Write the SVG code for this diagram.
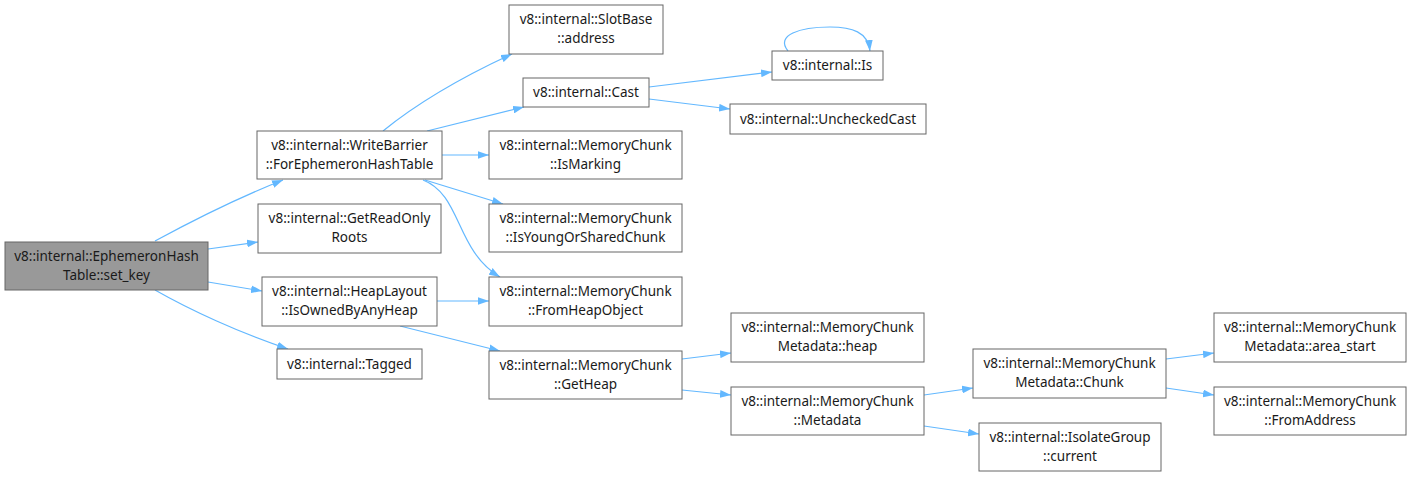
<svg xmlns="http://www.w3.org/2000/svg" width="1412" height="477" viewBox="0 0 1412 477">
<style>
.n rect{fill:#fff;stroke:#666;stroke-width:1}
.n.root rect{fill:#999}
.n text{font-family:"Noto Sans","Open Sans",sans-serif;font-size:13.5px;fill:#1a1a1a;text-anchor:middle}
#edges path{fill:none;stroke:#63b8ff;stroke-width:1.2;marker-end:url(#ah)}
</style>
<defs>
<marker id="ah" viewBox="0 0 10 7" refX="10" refY="3.5" markerWidth="11" markerHeight="8" markerUnits="userSpaceOnUse" orient="auto">
<path d="M0,0 L10,3.5 L0,7 z" fill="#63b8ff"/>
</marker>
</defs>
<rect width="1412" height="477" fill="#fff"/>
<g id="edges">
<path d="M155,241 C190,222 235,199 283,180"/>
<path d="M208,249 L258,242"/>
<path d="M208,282 L262,291"/>
<path d="M155,290 C190,310 240,333 288,349"/>
<path d="M383,131 C415,105 460,78 512,54"/>
<path d="M427,131 L524,107"/>
<path d="M442,155 L489,155"/>
<path d="M425,180 L503,204"/>
<path d="M423,180 C462,195 455,250 500,277"/>
<path d="M437,301 L489,301"/>
<path d="M400,326 L500,351"/>
<path d="M649,87 L772,72"/>
<path d="M649,99 L730,109"/>
<path d="M788,51 C775,35 800,27 830,27 C852,27 868,32 870,51"/>
<path d="M682,359 L731,353"/>
<path d="M682,390 L731,395"/>
<path d="M924,395 L973,388"/>
<path d="M924,426 L979,434"/>
<path d="M1166,359 L1214,353"/>
<path d="M1166,388 L1214,395"/>
</g>
<g id="set_key" class="n root"><rect x="5" y="242" width="203" height="48"/><text x="106.5" y="261">v8::internal::EphemeronHash</text><text x="106.5" y="280">Table::set_key</text></g>
<g id="write_barrier" class="n"><rect x="257" y="131" width="185" height="48"/><text x="349.5" y="150">v8::internal::WriteBarrier</text><text x="349.5" y="169">::ForEphemeronHashTable</text></g>
<g id="get_read_only_roots" class="n"><rect x="258" y="204" width="183" height="49"/><text x="349.5" y="223">v8::internal::GetReadOnly</text><text x="349.5" y="242">Roots</text></g>
<g id="is_owned" class="n"><rect x="262" y="277" width="175" height="49"/><text x="349.5" y="296">v8::internal::HeapLayout</text><text x="349.5" y="315">::IsOwnedByAnyHeap</text></g>
<g id="tagged" class="n"><rect x="277" y="349" width="145" height="30"/><text x="349.5" y="369">v8::internal::Tagged</text></g>
<g id="slotbase_address" class="n"><rect x="509" y="5" width="154" height="49"/><text x="586" y="24">v8::internal::SlotBase</text><text x="586" y="43">::address</text></g>
<g id="cast" class="n"><rect x="523" y="78" width="126" height="29"/><text x="586" y="97">v8::internal::Cast</text></g>
<g id="is_marking" class="n"><rect x="489" y="131" width="193" height="48"/><text x="585.5" y="150">v8::internal::MemoryChunk</text><text x="585.5" y="169">::IsMarking</text></g>
<g id="is_young" class="n"><rect x="489" y="204" width="193" height="48"/><text x="585.5" y="223">v8::internal::MemoryChunk</text><text x="585.5" y="242">::IsYoungOrSharedChunk</text></g>
<g id="from_heap_object" class="n"><rect x="489" y="277" width="193" height="49"/><text x="585.5" y="296">v8::internal::MemoryChunk</text><text x="585.5" y="315">::FromHeapObject</text></g>
<g id="get_heap" class="n"><rect x="489" y="351" width="193" height="48"/><text x="585.5" y="370">v8::internal::MemoryChunk</text><text x="585.5" y="389">::GetHeap</text></g>
<g id="is" class="n"><rect x="772" y="51" width="111" height="29"/><text x="827.5" y="70">v8::internal::Is</text></g>
<g id="unchecked_cast" class="n"><rect x="730" y="104" width="196" height="30"/><text x="828" y="124">v8::internal::UncheckedCast</text></g>
<g id="mcm_heap" class="n"><rect x="731" y="313" width="193" height="49"/><text x="827.5" y="332">v8::internal::MemoryChunk</text><text x="827.5" y="351">Metadata::heap</text></g>
<g id="metadata" class="n"><rect x="731" y="387" width="193" height="48"/><text x="827.5" y="406">v8::internal::MemoryChunk</text><text x="827.5" y="425">::Metadata</text></g>
<g id="mcm_chunk" class="n"><rect x="973" y="349" width="193" height="49"/><text x="1069.5" y="368">v8::internal::MemoryChunk</text><text x="1069.5" y="387">Metadata::Chunk</text></g>
<g id="isolate_current" class="n"><rect x="979" y="423" width="182" height="48"/><text x="1070" y="442">v8::internal::IsolateGroup</text><text x="1070" y="461">::current</text></g>
<g id="area_start" class="n"><rect x="1214" y="313" width="192" height="49"/><text x="1310" y="332">v8::internal::MemoryChunk</text><text x="1310" y="351">Metadata::area_start</text></g>
<g id="from_address" class="n"><rect x="1214" y="387" width="192" height="48"/><text x="1310" y="406">v8::internal::MemoryChunk</text><text x="1310" y="425">::FromAddress</text></g>
</svg>
